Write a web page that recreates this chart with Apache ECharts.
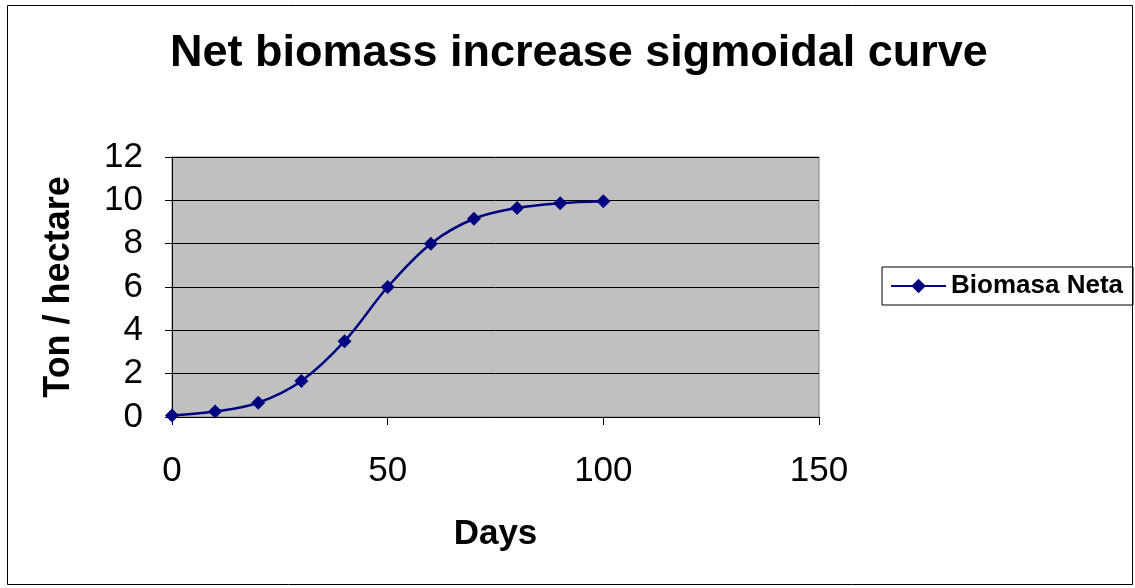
<!DOCTYPE html>
<html>
<head>
<meta charset="utf-8">
<script src="https://cdn.jsdelivr.net/npm/echarts@6/dist/echarts.min.js"></script>
<style>
  html, body { margin: 0; padding: 0; background: #fff; }
  #chart { width: 1135px; height: 588px; }
</style>
</head>
<body>
<div id="chart"></div>
<script>
// Days after sowing and net biomass (ton / hectare)
const days = [0, 10, 20, 30, 40, 50, 60, 70, 80, 90, 100];
const biomass = [0.07, 0.25, 0.66, 1.66, 3.5, 6.0, 8.0, 9.15, 9.65, 9.87, 9.96];
const xTicks = [0, 50, 100, 150];
const yTicks = [0, 2, 4, 6, 8, 10, 12];

const FONT = '"Liberation Sans", Arial, sans-serif';
const chart = echarts.init(document.getElementById('chart'), null, { renderer: 'canvas' });

chart.setOption({
  backgroundColor: '#ffffff',
  animation: false,
  title: {
    text: 'Net biomass increase sigmoidal curve',
    left: 165,
    top: 26,
    textStyle: { fontFamily: FONT, fontSize: 45, fontWeight: 'bold', color: '#000' }
  },
  graphic: [{
    type: 'rect',
    shape: { x: 7.5, y: 5.5, width: 1125, height: 579 },
    style: { fill: 'none', stroke: '#000', lineWidth: 1 },
    silent: true
  }],
  legend: {
    right: 2,
    top: 267,
    orient: 'vertical',
    data: ['Biomasa Neta'],
    itemWidth: 55,
    itemHeight: 18,
    padding: [6, 10, 6, 8],
    borderColor: '#000',
    borderWidth: 1,
    textStyle: { fontFamily: FONT, fontSize: 26, fontWeight: 'bold', color: '#000' }
  },
  grid: {
    left: 172, top: 157, width: 647, height: 260,
    show: true,
    backgroundColor: '#c0c0c0',
    borderColor: '#808080',
    borderWidth: 1
  },
  xAxis: {
    type: 'value',
    min: 0, max: 150, interval: 50,
    name: 'Days',
    nameLocation: 'middle',
    nameGap: 100,
    nameTextStyle: { fontFamily: FONT, fontSize: 35, fontWeight: 'bold', color: '#000' },
    axisLine: { show: true, onZero: false, lineStyle: { color: '#000', width: 1 } },
    axisTick: { show: true, inside: false, length: 8, lineStyle: { color: '#000' } },
    axisLabel: {
      margin: 37, fontFamily: FONT, fontSize: 35, color: '#000',
      formatter: v => xTicks.includes(v) ? String(v) : ''
    },
    splitLine: { show: false }
  },
  yAxis: {
    type: 'value',
    min: 0, max: 12, interval: 2,
    name: 'Ton / hectare',
    nameLocation: 'middle',
    nameGap: 95,
    nameRotate: 90,
    nameTextStyle: { fontFamily: FONT, fontSize: 36, fontWeight: 'bold', color: '#000' },
    axisLine: { show: true, lineStyle: { color: '#000', width: 1 } },
    axisTick: { show: true, inside: false, length: 7, lineStyle: { color: '#000' } },
    axisLabel: {
      margin: 29, fontFamily: FONT, fontSize: 35, color: '#000',
      formatter: v => yTicks.includes(v) ? String(v) : ''
    },
    splitLine: { show: true, lineStyle: { color: '#000', width: 1 } }
  },
  series: [{
    name: 'Biomasa Neta',
    type: 'line',
    data: days.map((d, i) => [d, biomass[i]]),
    smooth: 0.35,
    symbol: 'diamond',
    symbolSize: 14,
    lineStyle: { color: '#000080', width: 2.5 },
    itemStyle: { color: '#000080' }
  }]
});
</script>
</body>
</html>
